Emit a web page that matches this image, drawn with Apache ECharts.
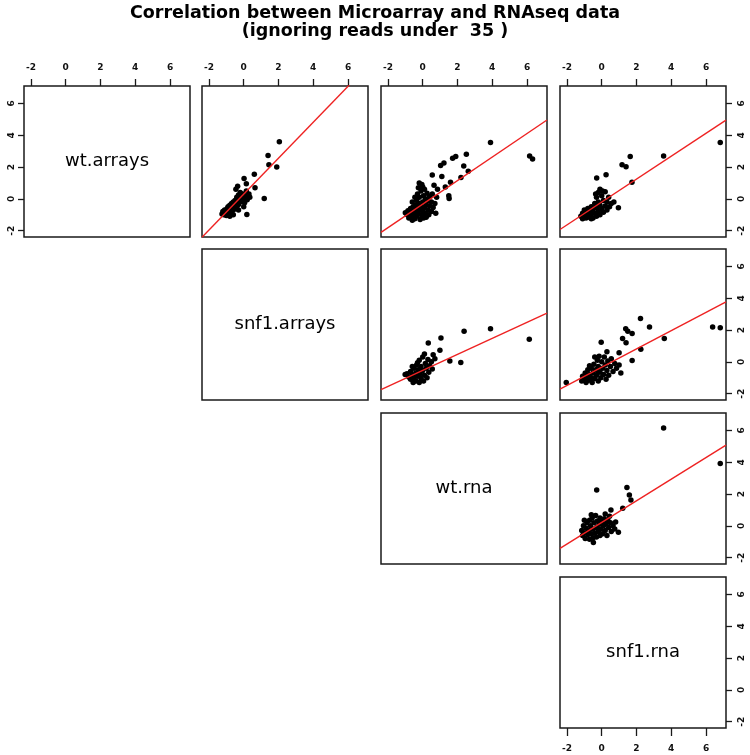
<!DOCTYPE html>
<html>
<head>
<meta charset="utf-8">
<script src="https://cdn.jsdelivr.net/npm/echarts@6/dist/echarts.min.js"></script>
<style>
  html, body { margin: 0; padding: 0; background: #fff; }
  #chart { width: 750px; height: 755px; }
</style>
</head>
<body>
<div id="chart"></div>
<script>
const varNames = ['wt.arrays', 'snf1.arrays', 'wt.rna', 'snf1.rna']
const tickValues = [-2, 0, 2, 4, 6]
const axisMin = -2.4
const xMax = 7.15
const yMax = 7.1

// upper panels: [x, y], x = column variable, y = row variable
const pts12 = [
  [-1.25, -0.95], [-1.2, -0.8], [-1.15, -1.0], [-1.1, -0.9], [-1.1, -0.7], [-1.05, -0.85], [-1.0, -1.05],
  [-1.0, -0.75], [-0.95, -0.6], [-0.9, -0.9], [-0.9, -0.5], [-0.85, -0.7], [-0.8, -1.1], [-0.8, -0.4],
  [-0.75, -0.6], [-0.7, -0.85], [-0.7, -0.3], [-0.65, -0.5], [-0.6, -0.7], [-0.6, -0.2], [-0.55, -0.4],
  [-0.5, -0.6], [-0.5, -0.1], [-0.45, -0.3], [-0.4, 0.1], [-0.4, -0.5], [-0.35, -0.15], [-0.3, 0.25],
  [-0.3, -0.35], [-0.25, 0.0], [-0.2, -0.2], [-0.2, 0.4], [-0.15, 0.15], [-0.1, -0.1], [-0.05, 0.3],
  [0.0, 0.05], [0.05, -0.25], [0.1, 0.2], [0.15, 0.5], [0.2, -0.05], [0.3, 0.3], [-0.6, -1.0],
  [-0.3, -0.7], [0.0, -0.5], [0.35, 0.1], [-0.45, 0.6], [-0.35, 0.8],
  [2.05, 3.6], [1.4, 2.72], [1.45, 2.15], [1.9, 2.0], [0.61, 1.55], [0.02, 1.28], [0.15, 0.95],
  [0.65, 0.7], [1.18, 0.02], [0.18, -0.98]
]
const pts13 = [
  [-1.0, -0.88], [-0.9, -1.0], [-0.85, -0.75], [-0.8, -1.2], [-0.75, -0.9], [-0.7, -0.6], [-0.65, -1.1],
  [-0.6, -0.8], [-0.6, -1.35], [-0.55, -0.5], [-0.5, -1.0], [-0.5, -0.7], [-0.45, -1.25], [-0.4, -0.4],
  [-0.4, -0.85], [-0.35, -0.1], [-0.35, -1.1], [-0.3, -0.6], [-0.3, 0.3], [-0.25, -0.95], [-0.25, 0.7],
  [-0.2, -0.3], [-0.2, 0.1], [-0.15, -1.3], [-0.15, -0.7], [-0.1, 0.5], [-0.1, -0.45], [-0.05, -1.05],
  [-0.05, 0.9], [0.0, -0.2], [0.0, -0.8], [0.05, 0.2], [0.05, -1.2], [0.1, -0.55], [0.1, 0.6],
  [0.15, -0.9], [0.15, 0.0], [0.2, -0.35], [0.2, -1.15], [0.25, 0.35], [0.3, -0.7], [0.3, -0.1],
  [0.35, -1.0], [0.4, -0.45], [0.4, 0.15], [0.5, -0.8], [0.5, -0.2], [0.55, 0.3], [0.6, -0.55],
  [0.7, -0.3], [0.75, -0.9], [0.8, 0.1], [-0.2, 1.0], [0.0, 0.75], [-0.45, 0.1], [-0.6, -0.2],
  [3.9, 3.54], [6.15, 2.7], [6.32, 2.5], [2.51, 2.81], [1.9, 2.66], [1.72, 2.55], [1.22, 2.25],
  [1.03, 2.1], [2.36, 2.06], [2.62, 1.73], [0.55, 1.5], [1.1, 1.4], [2.2, 1.35], [1.6, 1.04],
  [1.3, 0.75], [0.65, 0.85], [1.5, 0.2], [1.52, 0.02], [0.85, 0.6]
]
const pts14 = [
  [-1.2, -1.1], [-1.1, -0.9], [-1.1, -1.25], [-1.0, -0.7], [-1.0, -1.05], [-0.9, -0.85], [-0.9, -1.2],
  [-0.8, -0.6], [-0.8, -1.0], [-0.7, -1.15], [-0.7, -0.8], [-0.6, -0.5], [-0.6, -0.95], [-0.5, -1.2],
  [-0.5, -0.7], [-0.4, -0.3], [-0.4, -0.9], [-0.3, 0.1], [-0.3, -0.55], [-0.3, -1.1], [-0.2, 0.4],
  [-0.2, -0.2], [-0.2, -0.8], [-0.1, 0.6], [-0.1, -0.4], [-0.1, -1.0], [0.0, 0.2], [0.0, -0.6],
  [0.1, -0.1], [0.1, -0.85], [0.2, 0.45], [0.2, -0.45], [0.3, -0.2], [0.3, -0.7], [0.4, 0.1],
  [0.45, -0.5], [0.55, -0.3], [0.7, -0.2], [-0.35, 0.3], [0.05, 0.5], [-0.6, -1.25],
  [6.82, 3.54], [3.56, 2.7], [1.64, 2.67], [1.17, 2.14], [1.4, 2.02], [-0.29, 1.31], [0.25, 1.52],
  [1.74, 1.04], [0.96, -0.56]
]
const pts23 = [
  [-0.9, -0.75], [-0.8, -0.95], [-0.7, -0.6], [-0.7, -1.1], [-0.6, -0.85], [-0.55, -1.3], [-0.5, -0.4],
  [-0.5, -1.0], [-0.4, -0.7], [-0.4, -1.2], [-0.35, -0.2], [-0.3, -0.9], [-0.25, -0.5], [-0.2, -1.3],
  [-0.2, 0.1], [-0.15, -0.75], [-0.1, -1.05], [-0.1, -0.3], [0.0, 0.3], [0.0, -0.55], [0.05, -1.2],
  [0.1, -0.85], [0.15, -0.1], [0.2, -0.4], [0.25, -1.0], [0.3, 0.15], [0.35, -0.65], [0.4, -0.25],
  [0.5, 0.0], [0.55, -0.45], [0.6, 0.45], [0.7, 0.2], [-0.3, -0.05], [0.1, 0.5], [-0.6, -0.3],
  [2.38, 1.93], [3.9, 2.09], [6.13, 1.42], [1.05, 1.5], [0.32, 1.19], [0.99, 0.73], [1.56, 0.06],
  [2.19, -0.04], [-1.01, -0.8]
]
const pts24 = [
  [-1.15, -1.2], [-1.1, -0.9], [-1.0, -1.1], [-0.95, -0.7], [-0.9, -1.3], [-0.85, -0.95], [-0.8, -0.5],
  [-0.75, -1.15], [-0.7, -0.8], [-0.6, -1.0], [-0.6, -0.4], [-0.55, -1.3], [-0.5, -0.7], [-0.45, -0.15],
  [-0.4, -1.05], [-0.4, 0.3], [-0.35, -0.5], [-0.3, -0.85], [-0.25, 0.1], [-0.2, -1.2], [-0.2, -0.3],
  [-0.15, 0.35], [-0.1, -0.65], [-0.05, -1.0], [0.0, 0.0], [0.05, -0.4], [0.1, -0.8], [0.15, 0.3],
  [0.2, -0.2], [0.25, -1.1], [0.3, -0.55], [0.35, 0.05], [0.4, -0.85], [0.5, -0.3], [0.55, 0.2],
  [0.65, -0.6], [0.75, -0.1], [0.85, -0.4], [1.0, -0.2], [1.1, -0.7], [-0.7, -0.25], [-0.25, -0.55],
  [2.23, 2.72], [2.75, 2.2], [1.38, 2.09], [1.5, 1.93], [1.75, 1.78], [1.2, 1.47], [1.4, 1.2],
  [-0.03, 1.24], [3.6, 1.47], [6.38, 2.2], [6.82, 2.14], [2.25, 0.79], [1.0, 0.58], [1.75, 0.08],
  [-2.04, -1.3], [0.3, 0.63]
]
const pts34 = [
  [-1.15, -0.3], [-1.1, -0.6], [-1.05, 0.0], [-1.0, -0.45], [-0.95, -0.8], [-0.9, -0.15], [-0.85, 0.2],
  [-0.8, -0.55], [-0.75, -0.3], [-0.7, 0.35], [-0.7, -0.85], [-0.65, 0.0], [-0.6, -0.5], [-0.55, 0.5],
  [-0.5, -0.2], [-0.5, -0.75], [-0.45, 0.2], [-0.4, -0.45], [-0.35, 0.65], [-0.3, -0.1], [-0.3, -0.7],
  [-0.25, 0.3], [-0.2, -0.35], [-0.15, 0.1], [-0.1, -0.6], [-0.1, 0.5], [-0.05, -0.2], [0.0, 0.25],
  [0.05, -0.5], [0.1, 0.0], [0.15, 0.45], [0.2, -0.3], [0.25, 0.15], [0.3, -0.6], [0.35, 0.35],
  [0.4, -0.1], [0.5, 0.2], [0.55, -0.35], [0.65, 0.0], [0.75, -0.2], [0.8, 0.25], [-0.6, 0.7],
  [0.2, 0.75], [0.45, 0.6], [-1.0, 0.35],
  [3.56, 6.15], [6.82, 3.92], [-0.29, 2.25], [1.45, 2.42], [1.59, 1.94], [1.68, 1.63], [1.21, 1.11],
  [0.53, 1.0], [0.96, -0.41], [-0.48, -1.04]
]

// regression lines: [intercept, slope]
const fit12 = [0.3, 1.13]
const fit13 = [-0.33, 0.74]
const fit14 = [-0.2, 0.72]
const fit23 = [-0.54, 0.505]
const fit24 = [-0.34, 0.575]
const fit34 = [0.22, 0.68]

const upper = [
  { row: 0, col: 1, pts: pts12, fit: fit12 },
  { row: 0, col: 2, pts: pts13, fit: fit13 },
  { row: 0, col: 3, pts: pts14, fit: fit14 },
  { row: 1, col: 2, pts: pts23, fit: fit23 },
  { row: 1, col: 3, pts: pts24, fit: fit24 },
  { row: 2, col: 3, pts: pts34, fit: fit34 },
]

const colLeft = [24, 202, 381, 560]
const rowTop = [86, 249, 413, 577]
const cellW = 166
const cellH = 151
const font = 'DejaVu Sans'

const panels = [
  ...varNames.map((name, i) => ({ row: i, col: i, name })),
  ...upper,
]

const grid = []
const xAxis = []
const yAxis = []
const series = []

panels.forEach((p, k) => {
  grid.push({
    left: colLeft[p.col], top: rowTop[p.row], width: cellW, height: cellH,
    show: true, borderColor: '#1a1a1a', borderWidth: 1.5, backgroundColor: '#fff',
    outerBoundsMode: 'none',
  })

  const showTop = p.row === 0
  const showBottom = p.row === 3 && p.col === 3
  const showX = showTop || showBottom
  xAxis.push({
    gridIndex: k, type: 'value', min: axisMin, max: xMax,
    position: showBottom ? 'bottom' : 'top',
    splitLine: { show: false },
    axisLine: { show: false, onZero: false },
    axisTick: { show: showX, customValues: tickValues, length: showBottom ? 8 : 7, lineStyle: { color: '#1a1a1a', width: 1.3 } },
    axisLabel: {
      show: showX, customValues: tickValues, margin: showBottom ? 16 : 14,
      fontFamily: font, fontSize: 9, fontWeight: 'bold', color: '#111',
    },
  })

  const showRight = p.col === 3
  const showLeft = p.col === 0 && p.row === 0
  const showY = showRight || showLeft
  yAxis.push({
    gridIndex: k, type: 'value', min: axisMin, max: yMax,
    position: showRight ? 'right' : 'left',
    splitLine: { show: false },
    axisLine: { show: false, onZero: false },
    axisTick: { show: showY, customValues: tickValues, length: 6, lineStyle: { color: '#1a1a1a', width: 1.3 } },
    axisLabel: {
      show: showY, customValues: tickValues, rotate: 90, margin: showRight ? 11 : 8,
      fontFamily: font, fontSize: 9, fontWeight: 'bold', color: '#111',
    },
  })

  if (p.name) {
    series.push({
      type: 'scatter', xAxisIndex: k, yAxisIndex: k, symbolSize: 0, silent: true,
      itemStyle: { opacity: 1 },
      data: [[(axisMin + xMax) / 2, (axisMin + yMax) / 2]],
      label: {
        show: true, position: 'inside', formatter: p.name,
        fontFamily: font, fontSize: 18, color: '#000',
      },
    })
  } else {
    series.push({
      type: 'scatter', xAxisIndex: k, yAxisIndex: k, symbol: 'circle', symbolSize: 5.5,
      itemStyle: { color: '#000', opacity: 1 }, data: p.pts, silent: true,
    })
    const [a, b] = p.fit
    series.push({
      type: 'line', xAxisIndex: k, yAxisIndex: k, symbol: 'none', clip: true, silent: true,
      lineStyle: { color: '#ee2222', width: 1.4 },
      data: [[axisMin, a + b * axisMin], [xMax, a + b * xMax]],
    })
  }
})

const chart = echarts.init(document.getElementById('chart'))
chart.setOption({
  animation: false,
  backgroundColor: '#fff',
  title: {
    text: 'Correlation between Microarray and RNAseq data\n(ignoring reads under  35 )',
    left: 'center', top: 4, padding: 0,
    textStyle: { fontFamily: font, fontSize: 17.5, fontWeight: 'bold', lineHeight: 18, color: '#000' },
  },
  grid,
  xAxis,
  yAxis,
  series,
})
</script>
</body>
</html>
